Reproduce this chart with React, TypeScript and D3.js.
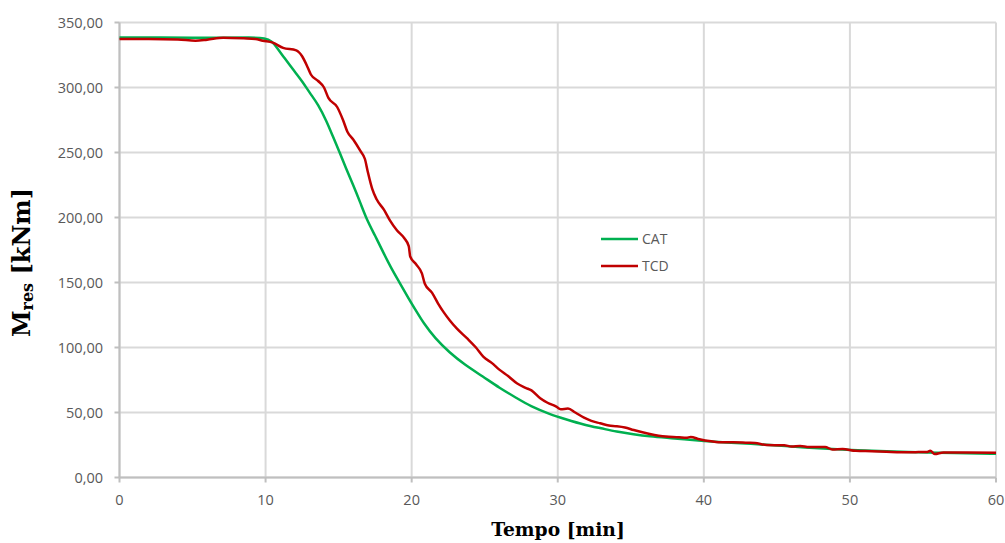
import React from "react";
import * as d3 from "d3";

const catTime = [0, 3, 5, 7, 9, 10, 10.4, 10.76, 11.3, 11.9, 12.5, 13.04, 13.6, 14.18, 14.6, 15.09, 15.5, 16, 16.5, 16.92, 17.5, 18.06, 18.6, 19.2, 19.8, 20.34, 20.8, 21.6, 22.6, 23.6, 24.9, 26, 27.2, 28.1, 29.5, 30.5, 31.8, 33, 34, 35.2, 36.3, 37.5, 38.6, 40, 41.5, 43.2, 45, 47, 48.5, 50, 52, 54, 56, 58, 60];
const catValues = [338.5, 338.5, 338.3, 338.3, 338.5, 338, 336, 331, 322.5, 313.5, 305, 295.5, 287, 274, 262.5, 249.5, 238, 225, 211, 198.5, 186, 173, 161, 149.4, 137.5, 127.5, 119, 107, 96, 87, 77.5, 69, 61, 55, 48.5, 45, 40.5, 37.8, 35.3, 33.2, 31.6, 30.5, 29.5, 28, 26.8, 26, 24.6, 23, 22, 21.2, 20.3, 19.5, 19, 18.6, 18.2];

const tcdTime = [0, 2, 4, 5.2, 6, 7.1, 8.5, 9.3, 9.8, 10.5, 11.2, 12.1, 12.5, 12.9, 13.1, 13.6, 14.0, 14.3, 14.9, 15.3, 15.6, 16.0, 16.5, 16.8, 17.0, 17.3, 17.6, 18.1, 18.5, 19.0, 19.5, 19.8, 19.9, 20.3, 20.7, 20.9, 21.4, 21.8, 22.2, 22.6, 23.1, 23.8, 24.4, 24.9, 25.5, 26.0, 26.6, 27.2, 27.8, 28.2, 28.8, 29.3, 29.9, 30.2, 30.7, 31.2, 31.8, 32.3, 32.9, 33.5, 34, 34.6, 35.2, 36.3, 37.4, 38.3, 38.8, 39.1, 39.7, 40.5, 41, 42, 43, 43.5, 44.3, 45.5, 46, 46.6, 47.2, 48.3, 48.8, 49.5, 50.4, 51.5, 52.5, 53.5, 54.5, 55.3, 55.5, 55.8, 56.4, 58, 60];
const tcdValues = [337.3, 337.3, 337, 336, 336.8, 338.3, 337.8, 337.3, 336, 334.5, 330.5, 328.5, 324, 315, 310, 305, 300, 292, 285, 275, 266, 260, 251, 245, 235, 222, 214, 206, 198, 190, 184, 178, 170, 164, 157, 149, 142, 134, 127, 121, 114.5, 107, 100, 93, 88, 83, 78, 72.5, 69, 67, 61, 57.5, 54.5, 52.5, 53, 50, 46, 43.5, 41.7, 40, 39.5, 38.5, 36.5, 33.5, 31.5, 31, 30.5, 31.2, 29.4, 27.8, 27.2, 27.2, 26.8, 26.6, 25, 24.8, 23.8, 24.3, 23.5, 23.5, 21.5, 21.9, 20.5, 20.2, 19.8, 19.4, 19.5, 19.7, 20.6, 18, 19.3, 19.2, 19];

const xTicks = [0, 10, 20, 30, 40, 50, 60];
const yTicks = [0, 50, 100, 150, 200, 250, 300, 350];
const seriesNames = ["CAT", "TCD"];
const seriesColors = ["#00b050", "#c00000"];

export default function App() {
  const x = d3.scaleLinear().domain([0, 60]).range([119.5, 996]);
  const y = d3.scaleLinear().domain([0, 350]).range([477.5, 22.5]);
  const smoothLine = d3
    .line<[number, number]>()
    .x((d) => x(d[0]))
    .y((d) => y(d[1]))
    .curve(d3.curveBasis);
  const line = d3
    .line<[number, number]>()
    .x((d) => x(d[0]))
    .y((d) => y(d[1]))
    .curve(d3.curveMonotoneX);
  const catData = catTime.map((t, i) => [t, catValues[i]] as [number, number]);
  const tcdData = tcdTime.map((t, i) => [t, tcdValues[i]] as [number, number]);
  const fmt = (v: number) => v.toFixed(2).replace(".", ",");
  const tickFont = "'Open Sans', sans-serif";
  return (
    <svg width={1005} height={543} style={{ position: "absolute", left: 0, top: 0, background: "#fff" }}>
      <rect width={1005} height={543} fill="#fff" />
      {yTicks.map((v) => (
        <line key={"gy" + v} x1={x(0)} x2={x(60)} y1={y(v)} y2={y(v)} stroke="#d9d9d9" strokeWidth={2} />
      ))}
      {xTicks.map((t) => (
        <line key={"gx" + t} x1={x(t)} x2={x(t)} y1={y(0)} y2={y(350)} stroke="#d9d9d9" strokeWidth={2} />
      ))}
      <line x1={x(0)} x2={x(0)} y1={y(0)} y2={y(350)} stroke="#bfbfbf" strokeWidth={2} />
      <line x1={x(0)} x2={x(60)} y1={y(0)} y2={y(0)} stroke="#bfbfbf" strokeWidth={2} />
      {yTicks.map((v) => (
        <line key={"ty" + v} x1={x(0) - 5} x2={x(0)} y1={y(v)} y2={y(v)} stroke="#bfbfbf" strokeWidth={2} />
      ))}
      {xTicks.map((t) => (
        <line key={"tx" + t} x1={x(t)} x2={x(t)} y1={y(0)} y2={y(0) + 5} stroke="#bfbfbf" strokeWidth={2} />
      ))}
      {yTicks.map((v) => (
        <text key={"ly" + v} x={103} y={y(v)} dy="0.35em" textAnchor="end" fontFamily={tickFont} fontSize={14.5} fill="#595959">
          {fmt(v)}
        </text>
      ))}
      {xTicks.map((t) => (
        <text key={"lx" + t} x={x(t)} y={505} textAnchor="middle" fontFamily={tickFont} fontSize={14.5} fill="#595959">
          {t}
        </text>
      ))}
      <path d={smoothLine(catData) || ""} fill="none" stroke={seriesColors[0]} strokeWidth={2.5} strokeLinejoin="round" />
      <path d={line(tcdData) || ""} fill="none" stroke={seriesColors[1]} strokeWidth={2.5} strokeLinejoin="round" />
      {seriesNames.map((n, i) => (
        <g key={n}>
          <line x1={601} x2={638} y1={239 + i * 27} y2={239 + i * 27} stroke={seriesColors[i]} strokeWidth={2.5} />
          <text x={642} y={239 + i * 27} dy="0.35em" fontFamily={tickFont} fontSize={14} fill="#595959">
            {n}
          </text>
        </g>
      ))}
      <text x={558} y={536} textAnchor="middle" fontFamily="'DejaVu Serif', serif" fontWeight="bold" fontSize={18.7} fill="#000">
        Tempo [min]
      </text>
      <text transform="translate(30,262.5) rotate(-90)" textAnchor="middle" fontFamily="'DejaVu Serif', serif" fontWeight="bold" fontSize={24} fill="#000">
        M
        <tspan fontSize={16} dy={3}>res</tspan>
        <tspan dy={-3}> [kNm]</tspan>
      </text>
    </svg>
  );
}
